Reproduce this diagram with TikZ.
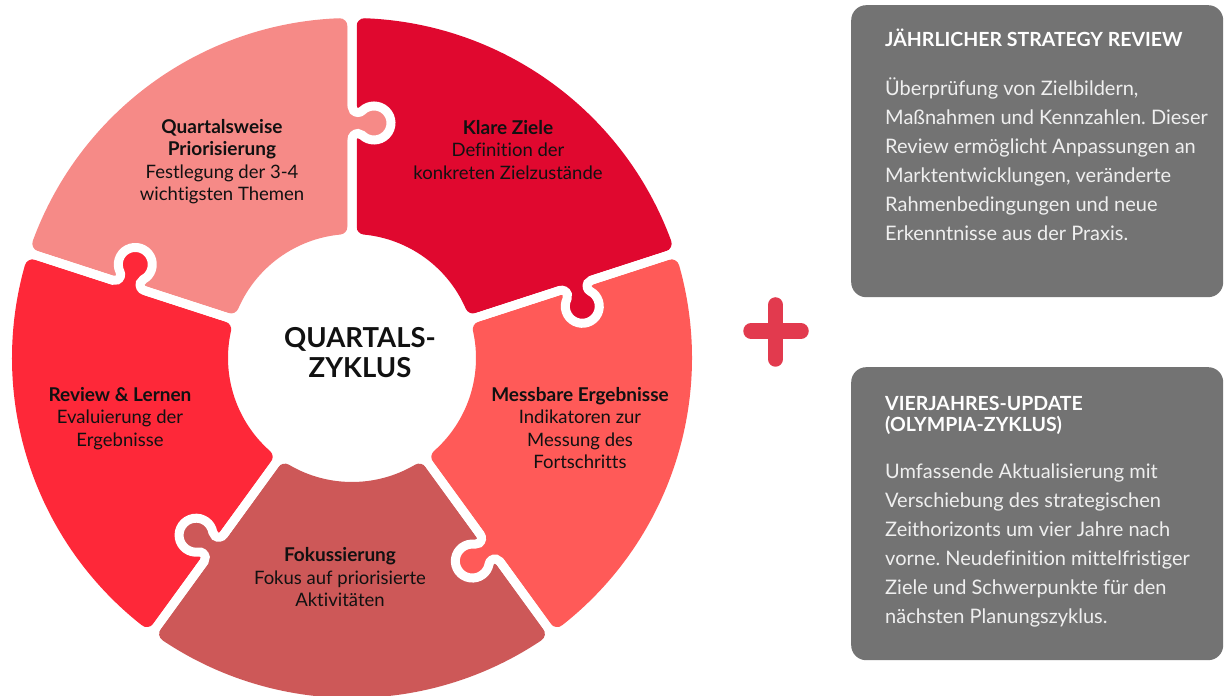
\documentclass[tikz,border=0pt]{standalone}
\usepackage{fontspec}
\setmainfont{Lato}[Ligatures={NoCommon}]
\frenchspacing
\definecolor{pieceA}{HTML}{E0082F}% Klare Ziele
\definecolor{pieceB}{HTML}{F68A87}% Quartalsweise Priorisierung
\definecolor{pieceC}{HTML}{FE2839}% Review & Lernen
\definecolor{pieceD}{HTML}{CD5858}% Fokussierung
\definecolor{pieceE}{HTML}{FF5A58}% Messbare Ergebnisse
\definecolor{panelgray}{HTML}{737373}
\definecolor{paneltext}{HTML}{EFEFEF}
\definecolor{plusred}{HTML}{E23A4E}
\definecolor{ink}{HTML}{111111}

% ring geometry (1pt = 1px): centre (352,338), inner radius 124, outer radius 340
% sector of 72 degrees starting at angle #1, corners rounded by an 8pt stroke
\newcommand\puzzlesector[2]{%
  \begin{scope}[shift={(352,338)}, rotate=#1]
    \filldraw[fill=#2, draw=#2, line width=16pt, line join=round]
      ({asin(12.5/132)}:132) -- ({asin(12.5/332)}:332)
      arc[start angle={asin(12.5/332)}, end angle={72-asin(12.5/332)}, radius=332]
      -- ({72-asin(12.5/132)}:132)
      arc[start angle={72-asin(12.5/132)}, end angle={asin(12.5/132)}, radius=132]
      -- cycle;
  \end{scope}}
% tab on the separator at angle #1, pushing clockwise into the next piece,
% followed by the white cut along the whole separator
\newcommand\puzzleknob[2]{%
  \begin{scope}[shift={(352,338)}, rotate=#1]
    \fill[#2] (218.48,0)
      arc[start angle=90, end angle=-44.08, radius=6]
      arc[start angle=-224.08, end angle=44.08, radius=17]
      arc[start angle=-135.92, end angle=-270, radius=6]
      -- (251.52,8) -- (218.48,8) -- cycle;
    \draw[white, line width=9pt] (116,0) -- (218.48,0)
      arc[start angle=90, end angle=-44.08, radius=6]
      arc[start angle=-224.08, end angle=44.08, radius=17]
      arc[start angle=-135.92, end angle=-270, radius=6]
      -- (348,0);
  \end{scope}}
\newcommand\piecefont{\fontsize{18.5}{22.5}\selectfont}
\newcommand\piecehead[1]{{\fontsize{19}{22.5}\bfseries\selectfont #1}}

\begin{document}
\begin{tikzpicture}[x=1pt, y=1pt,
  piecetext/.style={anchor=base, inner sep=0pt, text=ink},
  paneltextstyle/.style={anchor=base west, inner sep=0pt, text=paneltext},
  panel/.style={fill=panelgray, rounded corners=15pt, inner sep=0pt, anchor=north west, minimum width=372pt}]
\useasboundingbox (0,0) rectangle (1224,696);
\clip (0,0) rectangle (1224,696);

% ring of five puzzle pieces
\puzzlesector{18}{pieceA}
\puzzlesector{90}{pieceB}
\puzzlesector{162}{pieceC}
\puzzlesector{234}{pieceD}
\puzzlesector{306}{pieceE}
\puzzleknob{18}{pieceA}
\puzzleknob{90}{pieceB}
\puzzleknob{162}{pieceC}
\puzzleknob{234}{pieceD}
\puzzleknob{306}{pieceE}

% centre
\node[piecetext] (hub) at (360,348) {\parbox[t]{240pt}{\centering\fontsize{27.5}{30}\bfseries\selectfont QUARTALS-\\ZYKLUS}};

% piece labels
\node[piecetext] (prio) at (222,562.5) {\parbox[t]{240pt}{\centering\piecefont
  \piecehead{Quartalsweise}\\\piecehead{Priorisierung}\\Festlegung der 3-4\\wichtigsten Themen}};
\node[piecetext] (ziele) at (508,561.5) {\parbox[t]{240pt}{\centering\piecefont
  \piecehead{Klare Ziele}\\Definition der\\konkreten Zielzustände}};
\node[piecetext] (mess) at (580,294.5) {\parbox[t]{240pt}{\centering\piecefont
  \piecehead{Messbare Ergebnisse}\\Indikatoren zur\\Messung des\\Fortschritts}};
\node[piecetext] (fokus) at (340,134) {\parbox[t]{240pt}{\centering\piecefont
  \piecehead{Fokussierung}\\Fokus auf priorisierte\\Aktivitäten}};
\node[piecetext] (review) at (120,294.5) {\parbox[t]{240pt}{\centering\piecefont
  \piecehead{Review \& Lernen}\\Evaluierung der\\Ergebnisse}};

% plus sign
\draw[plusred, line width=15.5pt, line cap=round] (751,365) -- (801,365);
\draw[plusred, line width=15.5pt, line cap=round] (775.5,391) -- (775.5,337);

% side panels
\node[panel, minimum height=292pt] (annual) at (851,691) {};
\node[paneltextstyle, text=white] (annualhead) at (885,649) {\fontsize{19.5}{20}\bfseries\selectfont JÄHRLICHER STRATEGY REVIEW};
\node[paneltextstyle] (annualbody) at (885,600) {\parbox[t]{335pt}{\raggedright\fontsize{20}{29}\selectfont
  Überprüfung von Zielbildern,\\Maßnahmen und Kennzahlen. Dieser\\Review ermöglicht Anpassungen an\\Marktentwicklungen, veränderte\\Rahmenbedingungen und neue\\Erkenntnisse aus der Praxis.}};

\node[panel, minimum height=293pt] (olymp) at (851,329) {};
\node[paneltextstyle, text=white] (olymphead) at (885,285) {\parbox[t]{335pt}{\raggedright\fontsize{19.5}{20.5}\bfseries\selectfont VIERJAHRES-UPDATE\\(OLYMPIA-ZYKLUS)}};
\node[paneltextstyle] (olympbody) at (885,217) {\parbox[t]{335pt}{\raggedright\fontsize{20}{29}\selectfont
  Umfassende Aktualisierung mit\\Verschiebung des strategischen\\Zeithorizonts um vier Jahre nach\\vorne. Neudefinition mittelfristiger\\Ziele und Schwerpunkte für den\\nächsten Planungszyklus.}};
\end{tikzpicture}
\end{document}
